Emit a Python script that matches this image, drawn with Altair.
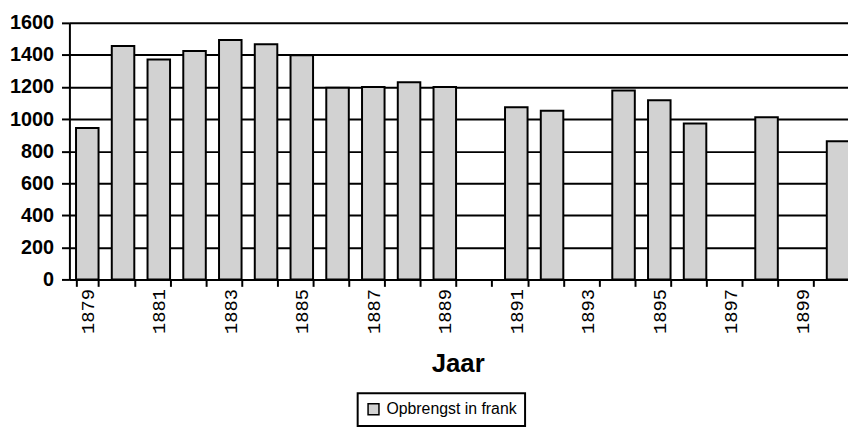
import altair as alt
import pandas as pd

# All year categories on the axis (some years have no bar)
years_all = ["1879", "1880", "1881", "1882", "1883", "1884", "1885", "1886",
             "1887", "1888", "1889", "1890", "1891", "1892", "1893", "1894",
             "1895", "1896", "1897", "1898", "1899", "1900"]

# Years with a value and their revenue (frank)
years = ["1879", "1880", "1881", "1882", "1883", "1884", "1885", "1886",
         "1887", "1888", "1889", "1891", "1892", "1894", "1895", "1896",
         "1898", "1900"]
values = [944, 1456, 1371, 1425, 1493, 1466, 1398, 1196,
          1200, 1229, 1200, 1074, 1052, 1178, 1118, 972,
          1012, 862]

series_name = "Opbrengst in frank"
y_ticks = [0, 200, 400, 600, 800, 1000, 1200, 1400, 1600]

df = pd.DataFrame({"Jaar": years, "Opbrengst": values, "Reeks": [series_name] * len(years)})

bars = alt.Chart(df).mark_bar(
    fill="#d2d2d2", stroke="black", strokeWidth=2
).encode(
    x=alt.X("Jaar:N",
            sort=years_all,
            scale=alt.Scale(domain=years_all, range=[0, 794],
                            paddingInner=0.37, paddingOuter=0.185),
            axis=alt.Axis(
                title="Jaar",
                labelAngle=270,
                labelExpr="toNumber(datum.value) % 2 == 1 ? datum.label : ''",
                labelFont="Liberation Mono", labelFontSize=19, labelColor="black",
                labelPadding=2,
                tickBand="extent", tickSize=7, tickColor="black", tickWidth=2,
                domainColor="black", domainWidth=2,
                titleFont="Liberation Sans", titleFontSize=26, titleFontWeight="bold",
                titleColor="black", titleX=392, titleY=93,
                titleBaseline="alphabetic", titleAlign="center",
                grid=False,
            )),
    y=alt.Y("Opbrengst:Q",
            scale=alt.Scale(domain=[0, 1600], nice=False),
            axis=alt.Axis(
                title=None, values=y_ticks, format="d",
                labelFont="Liberation Sans", labelFontSize=20, labelFontWeight="bold",
                labelColor="black", labelPadding=8,
                tickSize=8, tickColor="black", tickWidth=2,
                domainColor="black", domainWidth=2,
                grid=True, gridColor="black", gridWidth=2, gridOpacity=1,
            )),
    color=alt.Color("Reeks:N",
                    scale=alt.Scale(domain=[series_name], range=["#d2d2d2"]),
                    legend=alt.Legend(
                        title=None, orient="none", legendX=291, legendY=374,
                        symbolType="square", symbolSize=121,
                        symbolStrokeColor="black", symbolStrokeWidth=1.5,
                        symbolFillColor="#d2d2d2",
                        labelFont="Liberation Sans", labelFontSize=16,
                        labelColor="black", labelOffset=5,
                        padding=8, strokeColor="black",
                    )),
)

chart = bars.properties(
    width=786, height=259,
    autosize=alt.AutoSizeParams(type="none"),
    padding={"left": 62, "top": 13, "right": 0, "bottom": 149},
    background="white",
).configure_view(stroke=None).configure_legend(strokeWidth=2)

chart.save("out.html", embed_options={"renderer": "svg", "actions": False})
